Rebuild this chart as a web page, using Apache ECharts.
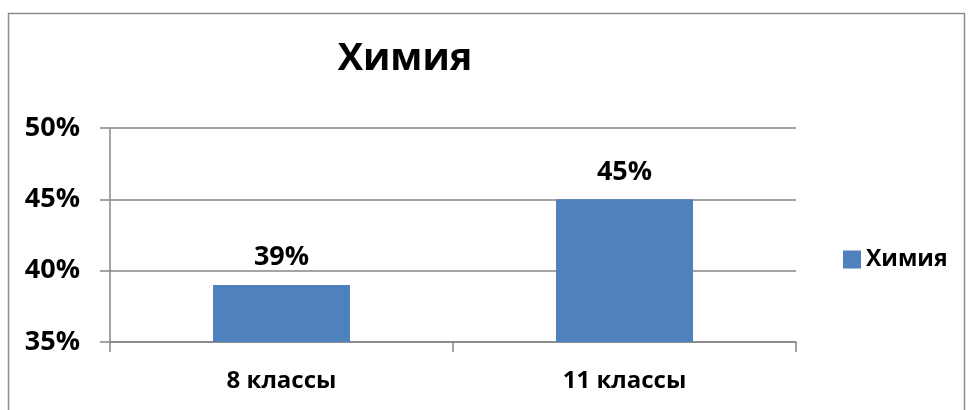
<!DOCTYPE html>
<html><head><meta charset="utf-8">
<script src="https://cdn.jsdelivr.net/npm/echarts@6/dist/echarts.min.js"></script>
<style>html,body{margin:0;padding:0;background:#fff}#c{width:973px;height:410px}</style>
</head><body><div id="c"></div>
<script>
const categories = ['8 классы', '11 классы'];
const values = [39, 45];
const seriesName = 'Химия';
const yTicks = [35, 40, 45, 50];

const FONT = '"Open Sans", "DejaVu Sans", sans-serif';
const chart = echarts.init(document.getElementById('c'));
chart.setOption({
  animation: false,
  title: {
    text: 'Химия', left: 400, top: 35, textAlign: 'center',
    textStyle: { fontFamily: FONT, fontSize: 38, fontWeight: 'bold', color: '#000' }
  },
  legend: {
    left: 838, top: 243, itemWidth: 18, itemHeight: 18, itemGap: 8,
    icon: 'rect',
    textStyle: { fontFamily: FONT, fontSize: 23, fontWeight: 'bold', color: '#000' },
    data: [seriesName]
  },
  graphic: [{
    type: 'rect', shape: { x: 8.5, y: 13.5, width: 956, height: 420 },
    style: { fill: 'none', stroke: '#8c8c8c', lineWidth: 1.5 }, silent: true
  }],
  grid: { left: 110, top: 128, right: 177, bottom: 68 },
  xAxis: {
    type: 'category', data: categories,
    axisLine: { lineStyle: { color: '#868686', width: 1.5 } },
    axisTick: { show: true, alignWithLabel: false, length: 10, lineStyle: { color: '#868686', width: 1.5 } },
    axisLabel: { margin: 27, fontFamily: FONT, fontSize: 24, fontWeight: 'bold', color: '#000' }
  },
  yAxis: {
    type: 'value', min: yTicks[0], max: yTicks[yTicks.length - 1], interval: 5,
    axisLine: { show: true, lineStyle: { color: '#868686', width: 1.5 } },
    axisTick: { show: true, length: 10, lineStyle: { color: '#868686', width: 1.5 } },
    splitLine: { lineStyle: { color: '#868686', width: 1.5 } },
    axisLabel: { margin: 30, formatter: v => v + '%', fontFamily: FONT, fontSize: 27, fontWeight: 'bold', color: '#000' }
  },
  series: [{
    name: seriesName, type: 'bar', data: values, barWidth: 137,
    itemStyle: { color: '#4f81bd' },
    label: { show: true, position: 'top', distance: 14, formatter: p => p.value + '%', fontFamily: FONT, fontSize: 27, fontWeight: 'bold', color: '#000' }
  }]
});
</script></body></html>
